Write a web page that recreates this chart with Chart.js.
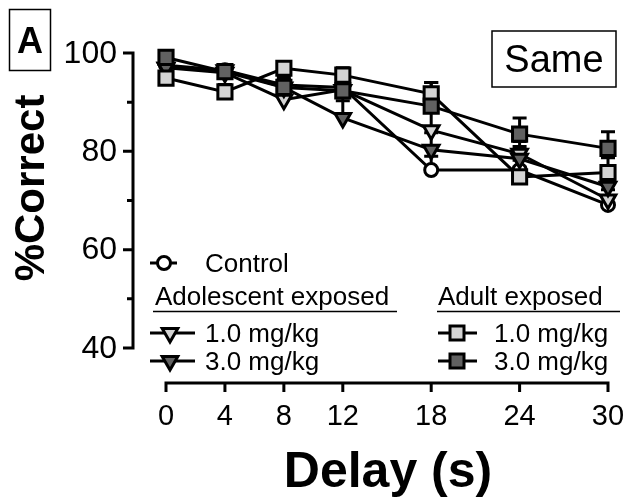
<!DOCTYPE html>
<html>
<head>
<meta charset="utf-8">
<script src="https://cdn.jsdelivr.net/npm/chart.js@4"></script>
<style>
  html, body { margin: 0; padding: 0; background: #fff; }
  #wrap { position: relative; width: 629px; height: 497px; }
</style>
</head>
<body>
<div id="wrap"><canvas id="chart" width="629" height="497"></canvas></div>
<script>
// delay (s) on x, % correct on y
const delays = [0, 4, 8, 12, 18, 24, 30];
const yTicks = [40, 50, 60, 70, 80, 90, 100];
const yLabels = [40, 60, 80, 100];

const control = [97.5, 96.5, 93.5, 93.0, 76.2, 76.2, 69.1];
const adol1 = [97.0, 96.0, 90.5, 92.5, 84.3, 79.5, 70.2];
const adol3 = [97.0, 96.5, 93.0, 86.8, 80.3, 78.5, 72.8];
const adult1 = [94.9, 92.1, 96.9, 95.5, 91.7, 74.8, 75.7];
const adult3 = [99.1, 96.2, 93.0, 92.3, 89.2, 83.5, 80.6];

// SEM, only the upper half is drawn (as in the original)
const controlErr = [1.0, 1.0, 1.5, 2.0, 2.8, 2.0, 1.5];
const adol1Err = [1.0, 1.0, 1.5, 2.0, 4.0, 2.5, 2.0];
const adol3Err = [1.0, 1.0, 1.5, 3.5, 3.5, 2.5, 2.5];
const adult1Err = [1.0, 1.5, 1.0, 1.5, 2.3, 2.0, 3.0];
const adult3Err = [1.0, 1.0, 1.5, 2.0, 4.8, 3.3, 3.4];

const FONT = '"Liberation Sans", Arial, sans-serif';
const LIGHT = "#d4d4d4";
const DARK = "#616161";

const toPoints = (vals) => vals.map((v, i) => ({ x: delays[i], y: v }));

function series(label, vals, err, style, fill, radius, order) {
  return {
    label: label,
    data: toPoints(vals),
    err: err,
    borderColor: "#000",
    borderWidth: 3,
    pointStyle: style,
    pointRotation: style === "triangle" ? 180 : 0,
    pointRadius: radius,
    pointBorderWidth: 3,
    pointBackgroundColor: fill,
    pointBorderColor: "#000",
    tension: 0,
    clip: false,
    order: order,
  };
}

// draws the little symbols of the legend
function marker(ctx, kind, x, y, fill) {
  ctx.save();
  ctx.lineWidth = 3;
  ctx.strokeStyle = "#000";
  ctx.fillStyle = fill;
  ctx.beginPath();
  if (kind === "circle") {
    ctx.arc(x, y, 6.5, 0, Math.PI * 2);
  } else if (kind === "triangle") {
    const r = 9;
    ctx.moveTo(x, y + r);
    ctx.lineTo(x - 0.866 * r, y - 0.5 * r);
    ctx.lineTo(x + 0.866 * r, y - 0.5 * r);
    ctx.closePath();
  } else {
    ctx.rect(x - 7, y - 7, 14, 14);
  }
  ctx.fill();
  ctx.stroke();
  ctx.restore();
}

const errorBars = {
  id: "errorBars",
  beforeDatasetsDraw(chart) {
    const ctx = chart.ctx;
    const xs = chart.scales.x;
    const ys = chart.scales.y;
    ctx.save();
    ctx.strokeStyle = "#000";
    ctx.lineWidth = 3;
    chart.data.datasets.forEach((ds) => {
      ds.data.forEach((p, i) => {
        const e = ds.err[i];
        const px = xs.getPixelForValue(p.x);
        const top = ys.getPixelForValue(p.y + e);
        const mid = ys.getPixelForValue(p.y);
        ctx.beginPath();
        ctx.moveTo(px, top);
        ctx.lineTo(px, mid);
        ctx.moveTo(px - 7, top);
        ctx.lineTo(px + 7, top);
        ctx.stroke();
      });
    });
    ctx.restore();
  },
};

const prismAxes = {
  id: "prismAxes",
  afterDraw(chart) {
    const ctx = chart.ctx;
    const xs = chart.scales.x;
    const ys = chart.scales.y;
    ctx.save();
    ctx.strokeStyle = "#000";
    ctx.fillStyle = "#000";
    ctx.lineWidth = 3;
    ctx.lineCap = "butt";

    // y axis, pulled left of x = 0
    const ax = 133;
    ctx.beginPath();
    ctx.moveTo(ax, ys.getPixelForValue(40) + 1.5);
    ctx.lineTo(ax, ys.getPixelForValue(100) - 1.5);
    yTicks.forEach((t) => {
      const py = ys.getPixelForValue(t);
      const len = yLabels.includes(t) ? 10 : 6;
      ctx.moveTo(ax - len, py);
      ctx.lineTo(ax, py);
    });
    ctx.stroke();
    ctx.font = "32px " + FONT;
    ctx.textAlign = "right";
    ctx.textBaseline = "middle";
    yLabels.forEach((t) => {
      ctx.fillText(String(t), 117, ys.getPixelForValue(t) + 1);
    });

    // x axis, dropped below y = 40
    const ay = 383;
    ctx.beginPath();
    ctx.moveTo(xs.getPixelForValue(0) - 1.5, ay);
    ctx.lineTo(xs.getPixelForValue(30) + 1.5, ay);
    delays.forEach((d) => {
      const px = xs.getPixelForValue(d);
      ctx.moveTo(px, ay);
      ctx.lineTo(px, ay + 9);
    });
    ctx.stroke();
    ctx.font = "29px " + FONT;
    ctx.textAlign = "center";
    ctx.textBaseline = "alphabetic";
    delays.forEach((d) => {
      ctx.fillText(String(d), xs.getPixelForValue(d), 425);
    });

    // axis titles
    ctx.font = "bold 50px " + FONT;
    ctx.fillText("Delay (s)", 388, 487);
    ctx.save();
    ctx.translate(44, 188);
    ctx.rotate(-Math.PI / 2);
    ctx.font = "bold 42px " + FONT;
    ctx.fillText("%Correct", 0, 0);
    ctx.restore();

    // panel letter and condition box
    ctx.lineWidth = 1.5;
    ctx.strokeRect(9.5, 9.5, 41, 61);
    ctx.font = "bold 36px " + FONT;
    ctx.fillText("A", 30, 53);
    ctx.strokeRect(492, 31, 124, 56);
    ctx.font = "38px " + FONT;
    ctx.fillText("Same", 554, 72);

    // legend
    ctx.lineWidth = 3;
    ctx.font = "26px " + FONT;
    ctx.textAlign = "left";
    const rows = [
      { kind: "circle", fill: "#fff", x0: 150, x1: 177, mx: 164, y: 263, text: "Control", tx: 205 },
      { kind: "triangle", fill: LIGHT, x0: 150, x1: 195, mx: 170, y: 333, text: "1.0 mg/kg", tx: 205 },
      { kind: "triangle", fill: DARK, x0: 150, x1: 195, mx: 170, y: 361, text: "3.0 mg/kg", tx: 205 },
      { kind: "rect", fill: LIGHT, x0: 438, x1: 477, mx: 457, y: 333, text: "1.0 mg/kg", tx: 494 },
      { kind: "rect", fill: DARK, x0: 438, x1: 477, mx: 457, y: 361, text: "3.0 mg/kg", tx: 494 },
    ];
    rows.forEach((r) => {
      ctx.beginPath();
      ctx.moveTo(r.x0, r.y);
      ctx.lineTo(r.x1, r.y);
      ctx.stroke();
      marker(ctx, r.kind, r.mx, r.y, r.fill);
      ctx.fillText(r.text, r.tx, r.y + 9);
    });
    ctx.fillText("Adolescent exposed", 155, 305);
    ctx.fillText("Adult exposed", 438, 305);
    ctx.lineWidth = 1.5;
    ctx.beginPath();
    ctx.moveTo(153, 311.5);
    ctx.lineTo(397, 311.5);
    ctx.moveTo(437, 311.5);
    ctx.lineTo(620, 311.5);
    ctx.stroke();
    ctx.restore();
  },
};

new Chart(document.getElementById("chart"), {
  type: "line",
  data: {
    datasets: [
      series("Control", control, controlErr, "circle", "#fff", 6.5, 4),
      series("Adolescent 1.0 mg/kg", adol1, adol1Err, "triangle", LIGHT, 9, 3),
      series("Adolescent 3.0 mg/kg", adol3, adol3Err, "triangle", DARK, 9, 2),
      series("Adult 1.0 mg/kg", adult1, adult1Err, "rect", LIGHT, 10, 1),
      series("Adult 3.0 mg/kg", adult3, adult3Err, "rect", DARK, 10, 0),
    ],
  },
  options: {
    responsive: false,
    animation: false,
    devicePixelRatio: 1,
    layout: { padding: { left: 166, right: 21, top: 53, bottom: 149 } },
    scales: {
      x: { type: "linear", min: 0, max: 30, display: false },
      y: { type: "linear", min: 40, max: 100, display: false },
    },
    plugins: {
      legend: { display: false },
      tooltip: { enabled: false },
    },
  },
  plugins: [errorBars, prismAxes],
});
</script>
</body>
</html>
